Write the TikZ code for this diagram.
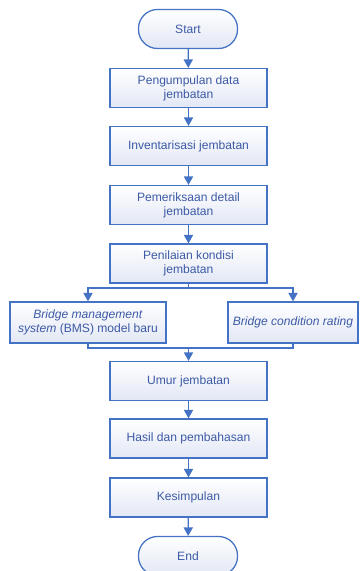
\documentclass[tikz,border=0pt]{standalone}
\usepackage{fontspec}
\setmainfont{Liberation Sans}
\usetikzlibrary{arrows.meta, positioning}
\definecolor{flowblue}{RGB}{68,114,196}
\definecolor{flowtext}{RGB}{60,90,165}
\definecolor{flowfill}{RGB}{226,231,245}

\begin{document}
\begin{tikzpicture}[
  x=0.025cm, y=-0.025cm,
  font=\fontsize{8.6}{9.8}\selectfont,
  proc/.style={rectangle, draw=flowblue, line width=0.9pt, top color=white,
    bottom color=flowfill, text=flowtext, minimum width=3.925cm,
    minimum height=0.975cm, align=center, inner sep=2pt},
  term/.style={proc, rounded corners=13.5pt, minimum width=2.475cm},
  arr/.style={-{Triangle[length=6pt, width=6.5pt]}, draw=flowblue, line width=0.9pt},
  ln/.style={draw=flowblue, line width=0.9pt}
]
\useasboundingbox (0,0) rectangle (361,571);
\node[term] (start) at (188,29) {Start};
\node[proc] (kumpul) at (188.5,88) {Pengumpulan data\\jembatan};
\node[proc] (inven) at (188.5,146) {Inventarisasi jembatan};
\node[proc] (periksa) at (188.5,205) {Pemeriksaan detail\\jembatan};
\node[proc] (nilai) at (188.5,263.5) {Penilaian kondisi\\jembatan};
\node[proc, minimum width=3.9cm, minimum height=1.025cm] (bms) at (88,322.5)
  {\textit{Bridge management}\\\textit{system} (BMS) model baru};
\node[proc, minimum width=3.25cm, minimum height=1.025cm] (bcr) at (293,322.5)
  {\textit{Bridge condition rating}};
\node[proc] (umur) at (188.5,381) {Umur jembatan};
\node[proc] (hasil) at (188.5,438.5) {Hasil dan pembahasan};
\node[proc] (simpul) at (188.5,497.5) {Kesimpulan};
\node[term] (end) at (188,556) {End};
\coordinate (split) at (188.5,288);
\coordinate (merge) at (188.5,348);
\draw[arr] (start) -- (kumpul);
\draw[arr] (kumpul) -- (inven);
\draw[arr] (inven) -- (periksa);
\draw[arr] (periksa) -- (nilai);
\draw[ln] (nilai.south) -- (split);
\draw[arr] (split) -| (bms.north);
\draw[arr] (split) -| (bcr.north);
\draw[ln] (bms.south) |- (merge);
\draw[ln] (bcr.south) |- (merge);
\draw[arr] (merge) -- (umur);
\draw[arr] (umur) -- (hasil);
\draw[arr] (hasil) -- (simpul);
\draw[arr] (simpul) -- (end);
\end{tikzpicture}
\end{document}
